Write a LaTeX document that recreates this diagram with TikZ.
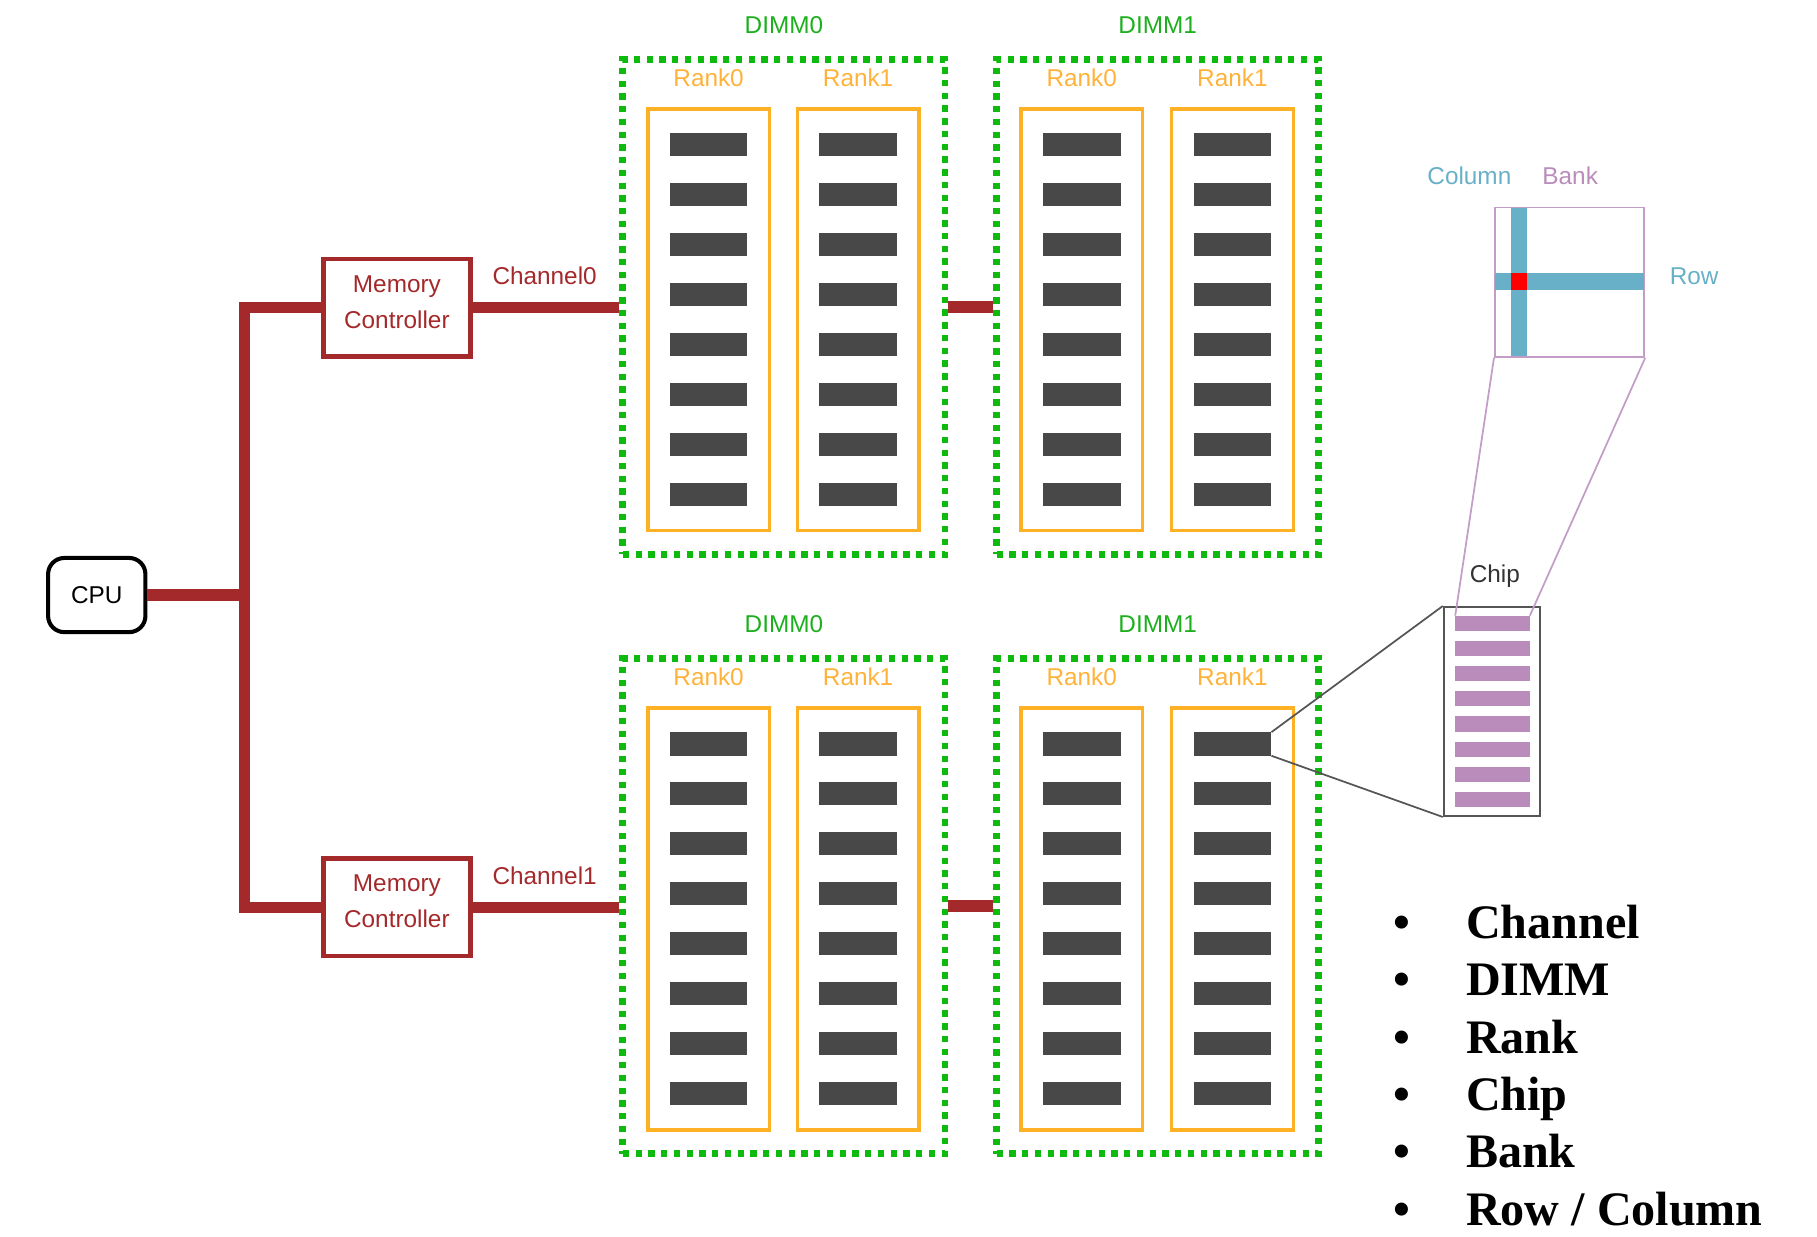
\documentclass[tikz,border=0pt]{standalone}
\usepackage{fontspec}
\setmainfont{Liberation Sans}
\newfontfamily\listfont{Liberation Serif}
\definecolor{mcred}{HTML}{A3292B}
\definecolor{dimmgreen}{HTML}{0DBA0D}
\definecolor{dimmtext}{HTML}{1DAF1D}
\definecolor{rankorange}{HTML}{FFB126}
\definecolor{ranktext}{HTML}{FFB23A}
\definecolor{chipgray}{HTML}{484848}
\definecolor{bankpurple}{HTML}{B98CBB}
\definecolor{banklinec}{HTML}{C39DC8}
\definecolor{rowblue}{HTML}{68B0C8}
\definecolor{detailgray}{HTML}{555555}
\begin{document}
\begin{tikzpicture}[x=1pt,y=-1pt,
  lbl/.style={inner sep=0pt, font=\fontsize{21}{25}\selectfont},
  cpubox/.style={draw=black, line width=3.5pt, rounded corners=14pt, minimum width=84pt, minimum height=64pt, inner sep=0pt, font=\fontsize{21}{25}\selectfont},
  mcbox/.style={draw=mcred, line width=4pt, minimum width=127pt, minimum height=84pt, inner sep=0pt},
  mctext/.style={lbl, text=mcred, align=center, font=\fontsize{21}{31}\selectfont},
  bus/.style={draw=mcred, line width=10pt},
  dimmbox/.style={draw=dimmgreen, line width=6pt, dash pattern=on 5.5pt off 5.5pt, minimum width=278pt, minimum height=427pt, inner sep=0pt},
  rankbox/.style={draw=rankorange, line width=3pt, minimum width=105pt, minimum height=364pt, inner sep=0pt},
  chipbar/.style={fill=chipgray, minimum width=67pt, minimum height=20pt, inner sep=0pt},
  bankbar/.style={fill=bankpurple, minimum width=64pt, minimum height=13pt, inner sep=0pt},
  detailbox/.style={draw=detailgray, line width=2pt, minimum width=83pt, minimum height=180pt, inner sep=0pt},
  bankbox/.style={draw=banklinec, line width=1.5pt, minimum width=129pt, minimum height=129pt, inner sep=0pt},
  listitem/.style={inner sep=0pt, font=\listfont\bfseries\fontsize{41.5}{50}\selectfont},
]
\useasboundingbox (0,0) rectangle (1568,1067);

% CPU and memory controllers
\node[cpubox] (cpu) at (83.5,513.5) {CPU};
\node[mcbox] (mc0) at (342.5,265.5) {};
\node[mctext] (mc0t) at (342.5,260.5) {Memory\\Controller};
\node[mcbox] (mc1) at (342.5,783) {};
\node[mctext] (mc1t) at (342.5,778) {Memory\\Controller};
\node[lbl, text=mcred] (ch0) at (470,238) {Channel0};
\node[lbl, text=mcred] (ch1) at (470,756) {Channel1};

% DIMMs, ranks, chips
\foreach \r/\off in {t/0, b/517}{
  \foreach \d/\dx/\dl in {0/676.5/DIMM0, 1/999/DIMM1}{
    \node[dimmbox] (d-\r-\d) at (\dx,265+\off) {};
    \node[lbl, text=dimmtext] (dl-\r-\d) at (\dx,22+\off) {\dl};
  }
  \foreach \d/\k/\rx/\rl in {0/0/611.5/Rank0, 0/1/740.5/Rank1, 1/0/933.5/Rank0, 1/1/1063.5/Rank1}{
    \node[rankbox] (r-\r-\d-\k) at (\rx,276+\off) {};
    \node[lbl, text=ranktext] (rl-\r-\d-\k) at (\rx,67+\off) {\rl};
    \foreach \i in {0,...,7}{
      \node[chipbar] (c-\r-\d-\k-\i) at (\rx,125+\off+43.1*\i) {};
    }
  }
}

% connectors
\coordinate (bt) at (211,265.5);
\coordinate (bb) at (211,783);
\draw[bus] (mc0.west) -- (bt) -- (bb) -- (mc1.west);
\draw[bus] (cpu.east) -- (cpu.east -| bt);
\draw[bus] (mc0.east) -- (mc0.east -| d-t-0.west);
\draw[bus] (mc1.east) -- (mc1.east -| d-b-0.west);
\draw[bus] (d-t-0.east) -- (d-t-1.west);
\draw[bus] (d-b-0.east) -- (d-b-1.west);

% chip detail
\node[detailbox] (chipd) at (1287.5,614) {};
\node[lbl, text=black!80] (chipl) at (1290,497) {Chip};
\foreach \i in {0,...,7}{
  \node[bankbar] (bk-\i) at (1288,538+21.7*\i) {};
}
\draw[detailgray, line width=1.5pt] (c-b-1-1-0.north east) -- (chipd.north west);
\draw[detailgray, line width=1.5pt] (c-b-1-1-0.south east) -- (chipd.south west);

% bank detail
\node[bankbox] (bank) at (1354.5,243.5) {};
\fill[rowblue] (1304,179.5) rectangle (1318,307.5);
\fill[rowblue] (1290.5,236) rectangle (1418.5,250);
\fill[red] (1304,236) rectangle (1318,250);
\node[lbl, text=rowblue] (coll) at (1268,152) {Column};
\node[lbl, text=bankpurple] (bankl) at (1355,152) {Bank};
\node[lbl, text=rowblue] (rowl) at (1462,238) {Row};
\draw[banklinec, line width=1.5pt] (bank.south west) -- (bk-0.north west);
\draw[banklinec, line width=1.5pt] (bank.south east) -- (bk-0.north east);

% list
\foreach \t [count=\n from 0] in {Channel, DIMM, Rank, Chip, Bank, Row / Column}{
  \node[listitem, anchor=base] (bul-\n) at (1210,809.7+49.5*\n) {•};
  \node[listitem, anchor=base west] (item-\n) at (1265,809.7+49.5*\n) {\t};
}
\end{tikzpicture}
\end{document}
